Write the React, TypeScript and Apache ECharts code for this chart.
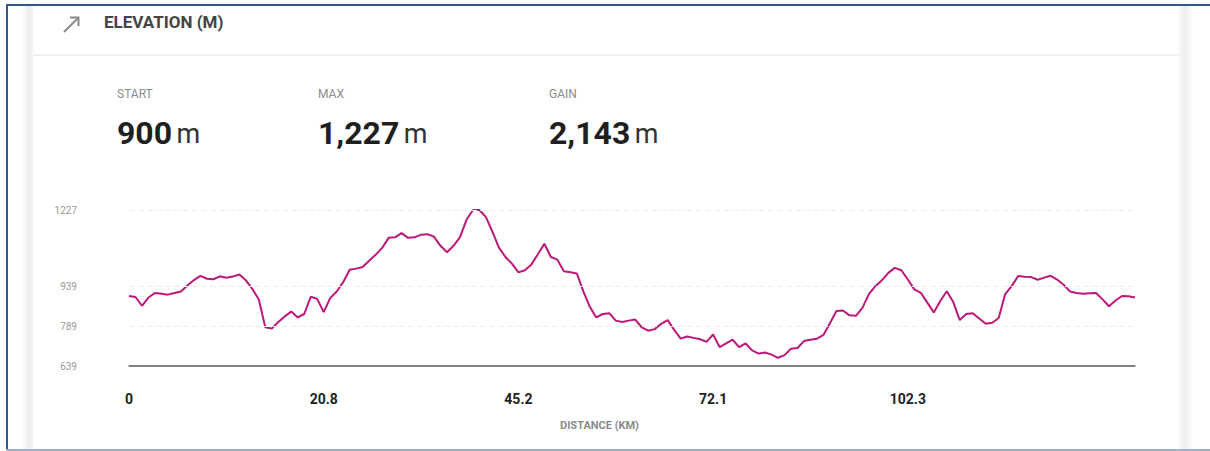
import React, { useEffect, useRef } from "react";
import * as echarts from "echarts";

const distances: string[] = [
  "0", "0.7", "1.4", "2.1", "2.8", "3.5", "4.1", "4.8", "5.5", "6.2",
  "6.9", "7.6", "8.3", "9.0", "9.7", "10.4", "11.1", "11.8", "12.5", "13.2",
  "13.9", "14.6", "15.3", "16.0", "16.7", "17.4", "18.1", "18.8", "19.5", "20.1",
  "20.8", "21.6", "22.4", "23.2", "24.0", "24.8", "25.7", "26.5", "27.3", "28.1",
  "28.9", "29.7", "30.5", "31.3", "32.2", "33.0", "33.8", "34.6", "35.4", "36.2",
  "37.0", "37.9", "38.7", "39.5", "40.3", "41.1", "41.9", "42.8", "43.6", "44.4",
  "45.2", "46.1", "47.0", "47.9", "48.8", "49.7", "50.6", "51.5", "52.4", "53.3",
  "54.2", "55.1", "56.0", "56.9", "57.8", "58.7", "59.6", "60.5", "61.4", "62.3",
  "63.2", "64.0", "64.9", "65.8", "66.7", "67.6", "68.5", "69.4", "70.3", "71.2",
  "72.1", "73.1", "74.1", "75.1", "76.1", "77.1", "78.1", "79.1", "80.1", "81.1",
  "82.1", "83.2", "84.2", "85.2", "86.2", "87.2", "88.2", "89.2", "90.2", "91.2",
  "92.2", "93.3", "94.3", "95.3", "96.3", "97.3", "98.3", "99.3", "100.3", "101.3",
  "102.3", "103.3", "104.4", "105.4", "106.5", "107.5", "108.6", "109.6", "110.7", "111.7",
  "112.8", "113.8", "114.9", "115.9", "117.0", "118.0", "119.1", "120.1", "121.2", "122.2",
  "123.3", "124.3", "125.4", "126.4", "127.5", "128.5", "129.6", "130.6", "131.7", "132.7",
  "133.8", "134.8", "135.9", "136.9", "138.0", "139.0",
];

const elevations: number[] = [
  903, 899, 866, 897, 914, 911, 908, 914, 920, 942,
  963, 979, 968, 966, 977, 972, 976, 984, 962, 930,
  890, 785, 780, 805, 826, 844, 822, 835, 900, 892,
  842, 895, 920, 955, 1002, 1006, 1012, 1036, 1058, 1084,
  1122, 1124, 1140, 1122, 1124, 1134, 1136, 1126, 1092, 1068,
  1092, 1125, 1190, 1227, 1227, 1200, 1145, 1085, 1050, 1025,
  992, 1000, 1022, 1060, 1100, 1050, 1040, 996, 992, 988,
  920, 862, 822, 835, 838, 810, 805, 810, 814, 785,
  772, 778, 798, 812, 775, 742, 750, 745, 740, 730,
  758, 710, 724, 738, 710, 724, 698, 686, 690, 682,
  670, 680, 704, 707, 733, 738, 742, 756, 800, 846,
  848, 830, 828, 858, 910, 940, 962, 990, 1009, 1000,
  965, 928, 915, 878, 841, 884, 921, 880, 812, 835,
  838, 818, 798, 802, 820, 910, 940, 978, 975, 974,
  964, 972, 979, 965, 945, 920, 914, 911, 913, 914,
  890, 864, 886, 903, 902, 897,
];

const yTickValues: number[] = [639, 789, 939, 1227];
const gridLineValues: number[] = [789, 939, 1227];
const statLabels: string[] = ["START", "MAX", "GAIN"];
const statValues: string[] = ["900", "1,227", "2,143"];
const labelEvery = 30;

export default function App() {
  const ref = useRef<HTMLDivElement>(null);

  useEffect(() => {
    if (!ref.current) return;
    const chart = echarts.init(ref.current, null, { renderer: "svg" });
    const statX = [117, 318, 549];

    const graphics: any[] = [
      // outer blue frame
      { type: "rect", shape: { x: 6, y: 4, width: 2, height: 446 }, style: { fill: "#34578f" }, silent: true },
      { type: "rect", shape: { x: 6, y: 4, width: 1204, height: 2 }, style: { fill: "#34578f" }, silent: true },
      { type: "rect", shape: { x: 6, y: 449, width: 1204, height: 2 }, style: { fill: "#9fb0cf" }, silent: true },
      // card shadows
      {
        type: "rect", shape: { x: 22, y: 6, width: 12, height: 443 }, silent: true,
        style: { fill: new echarts.graphic.LinearGradient(0, 0, 1, 0, [
          { offset: 0, color: "#ffffff" }, { offset: 0.6, color: "#ececec" }, { offset: 1, color: "#fafafa" },
        ]) },
      },
      {
        type: "rect", shape: { x: 1179, y: 6, width: 15, height: 443 }, silent: true,
        style: { fill: new echarts.graphic.LinearGradient(0, 0, 1, 0, [
          { offset: 0, color: "#f8f8f8" }, { offset: 0.4, color: "#eeeeee" }, { offset: 1, color: "#ffffff" },
        ]) },
      },
      // header separator
      { type: "rect", shape: { x: 34, y: 54, width: 1145, height: 2 }, style: { fill: "#efefef" }, silent: true },
      // arrow icon
      { type: "line", shape: { x1: 64, y1: 32, x2: 78, y2: 18 }, style: { stroke: "#8a8a8a", lineWidth: 2 }, silent: true },
      { type: "polyline", shape: { points: [[70, 17.5], [78.5, 17.5], [78.5, 26]] }, style: { stroke: "#8a8a8a", lineWidth: 2, fill: "none" }, silent: true },
      {
        type: "text", left: 104, top: 13, silent: true,
        style: { text: "ELEVATION (M)", fill: "#444444", font: "bold 17px Roboto" },
      },
      {
        type: "text", left: 560, top: 420, silent: true,
        style: { text: "DISTANCE (KM)", fill: "#8a8a8a", font: "bold 11px Roboto" },
      },
    ];

    statLabels.forEach((label, i) => {
      graphics.push({
        type: "text", left: statX[i], top: 88, silent: true,
        style: { text: label, fill: "#8c8c8c", font: "12px Roboto" },
      });
      graphics.push({
        type: "text", left: statX[i], top: 117, silent: true,
        style: {
          text: "{v|" + statValues[i] + "}{s| }{u|m}",
          rich: {
            v: { fill: "#1f1f1f", fontSize: 32, fontWeight: "bold", fontFamily: "Roboto", lineHeight: 36 },
            s: { fontSize: 16, lineHeight: 36 },
            u: { fill: "#333333", fontSize: 27, fontFamily: "Roboto", lineHeight: 36, padding: [2, 0, 0, 0] },
          },
        },
      });
    });

    chart.setOption({
      animation: false,
      backgroundColor: "#ffffff",
      graphic: graphics,
      grid: { left: 129, right: 75, top: 210, bottom: 85, containLabel: false },
      xAxis: {
        type: "category",
        data: distances,
        boundaryGap: false,
        axisLine: { show: true, lineStyle: { color: "#5a5a5a", width: 1.5 } },
        axisTick: { show: false },
        axisLabel: {
          interval: (index: number) => index % labelEvery === 0 && index < 150,
          color: "#222222",
          fontWeight: "bold",
          fontSize: 14,
          fontFamily: "Roboto",
          margin: 26,
        },
        splitLine: { show: false },
      },
      yAxis: {
        type: "value",
        min: 639,
        max: 1227,
        axisLine: { show: false },
        axisTick: { show: false, customValues: yTickValues },
        axisLabel: {
          customValues: yTickValues,
          formatter: (v: number) => String(v),
          color: "#9a9a9a",
          fontSize: 10,
          fontFamily: "Roboto",
          margin: 52,
          align: "right",
        },
        splitLine: { show: false },
      },
      series: [
        {
          type: "line",
          data: elevations,
          showSymbol: false,
          symbol: "none",
          lineStyle: { color: "#bc1879", width: 2 },
          z: 3,
          markLine: {
            silent: true,
            symbol: "none",
            label: { show: false },
            lineStyle: { color: "#ececec", type: [6, 3], width: 1 },
            data: gridLineValues.map((v) => ({ yAxis: v })),
          },
        },
      ],
    });

    return () => chart.dispose();
  }, []);

  return (
    <div
      ref={ref}
      style={{ position: "absolute", left: 0, top: 0, width: 1210, height: 451 }}
    />
  );
}
